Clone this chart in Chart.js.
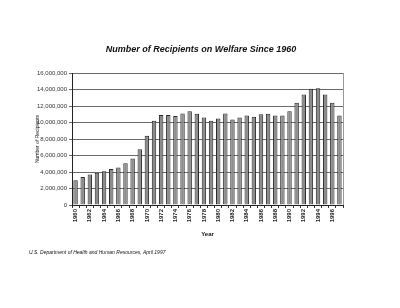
<!DOCTYPE html>
<html>
<head>
<meta charset="utf-8">
<script src="https://cdn.jsdelivr.net/npm/chart.js@4/dist/chart.umd.min.js"></script>
<style>
  html, body { margin: 0; padding: 0; background: #fff; }
  canvas { display: block; }
</style>
</head>
<body>
<canvas id="chart" width="400" height="308"></canvas>
<script>
// years 1960 - 1997
const years = [
  1960, 1961, 1962, 1963, 1964, 1965, 1966, 1967, 1968, 1969,
  1970, 1971, 1972, 1973, 1974, 1975, 1976, 1977, 1978, 1979,
  1980, 1981, 1982, 1983, 1984, 1985, 1986, 1987, 1988, 1989,
  1990, 1991, 1992, 1993, 1994, 1995, 1996, 1997,
];

// recipients (people)
const recipients = [
  3000000, 3400000, 3700000, 3900000, 4100000, 4350000, 4550000, 5050000, 5650000, 6750000,
  8400000, 10200000, 10900000, 10900000, 10800000, 11100000, 11350000, 11050000, 10600000, 10200000,
  10500000, 11100000, 10350000, 10600000, 10850000, 10700000, 11000000, 11050000, 10850000, 10850000,
  11350000, 12400000, 13400000, 14100000, 14150000, 13400000, 12400000, 10850000,
];

const yTicks = [0, 2000000, 4000000, 6000000, 8000000, 10000000, 12000000, 14000000, 16000000];

const titleText = 'Number of Recipients on Welfare Since 1960';
const sourceText = 'U.S. Department of Health and Human Resources, April 1997';

// Title, source line and plot frame
const textPlugin = {
  id: 'texts',
  afterDraw(chart) {
    const ctx = chart.ctx;
    const area = chart.chartArea;
    ctx.save();
    ctx.strokeStyle = '#999';
    ctx.lineWidth = 1;
    ctx.beginPath();
    ctx.moveTo(area.right + 0.5, area.top);
    ctx.lineTo(area.right + 0.5, area.bottom);
    ctx.stroke();

    ctx.fillStyle = '#111';
    ctx.textBaseline = 'middle';
    ctx.textAlign = 'center';
    ctx.font = 'italic bold 9px "Liberation Sans", Arial, sans-serif';
    ctx.fillText(titleText, 201, 50);
    ctx.textAlign = 'left';
    ctx.font = 'italic 5px "Liberation Sans", Arial, sans-serif';
    ctx.fillText(sourceText, 29, 253);
    ctx.restore();
  },
};

const bgPlugin = {
  id: 'bg',
  beforeDraw(chart) {
    const ctx = chart.ctx;
    ctx.save();
    ctx.fillStyle = '#fff';
    ctx.fillRect(0, 0, chart.width, chart.height);
    ctx.restore();
  },
};

new Chart(document.getElementById('chart'), {
  type: 'bar',
  data: {
    labels: years.map(String),
    datasets: [{
      data: recipients,
      backgroundColor: '#8c8c8c',
      borderColor: '#2a2a2a',
      borderWidth: 1,
      categoryPercentage: 1,
      barPercentage: 0.62,
    }],
  },
  plugins: [bgPlugin, textPlugin],
  options: {
    responsive: false,
    animation: false,
    devicePixelRatio: 1,
    layout: { padding: { top: 73, right: 57, bottom: 0, left: 0 } },
    plugins: {
      legend: { display: false },
      tooltip: { enabled: false },
    },
    scales: {
      x: {
        afterFit: (scale) => { scale.height = 103; },
        grid: { display: true, drawOnChartArea: false, tickLength: 3, color: '#333' },
        border: { color: '#222' },
        ticks: {
          autoSkip: false,
          minRotation: 90,
          maxRotation: 90,
          padding: 1,
          color: '#222',
          font: { family: '"Liberation Sans", Arial, sans-serif', size: 6, weight: 'bold' },
          callback: function (value, index) {
            return years[index] % 2 === 0 ? String(years[index]) : '';
          },
        },
        title: {
          display: true,
          text: 'Year',
          color: '#111',
          font: { family: '"Liberation Sans", Arial, sans-serif', size: 6, weight: 'bold' },
          padding: { top: 0, bottom: 70 },
        },
      },
      y: {
        min: 0,
        max: 16000000,
        afterFit: (scale) => { scale.width = 72; },
        afterBuildTicks: (scale) => { scale.ticks = yTicks.map((v) => ({ value: v })); },
        grid: { color: '#6a6a6a', tickLength: 3 },
        border: { color: '#222' },
        ticks: {
          padding: 2,
          color: '#333',
          font: { family: '"Liberation Sans", Arial, sans-serif', size: 6 },
          callback: (value) => new Intl.NumberFormat('en-US').format(value),
        },
        title: {
          display: true,
          text: 'Number of Recipients',
          color: '#111',
          font: { family: '"Liberation Sans", Arial, sans-serif', size: 5 },
          padding: { top: 35, bottom: 0 },
        },
      },
    },
  },
});
</script>
</body>
</html>
